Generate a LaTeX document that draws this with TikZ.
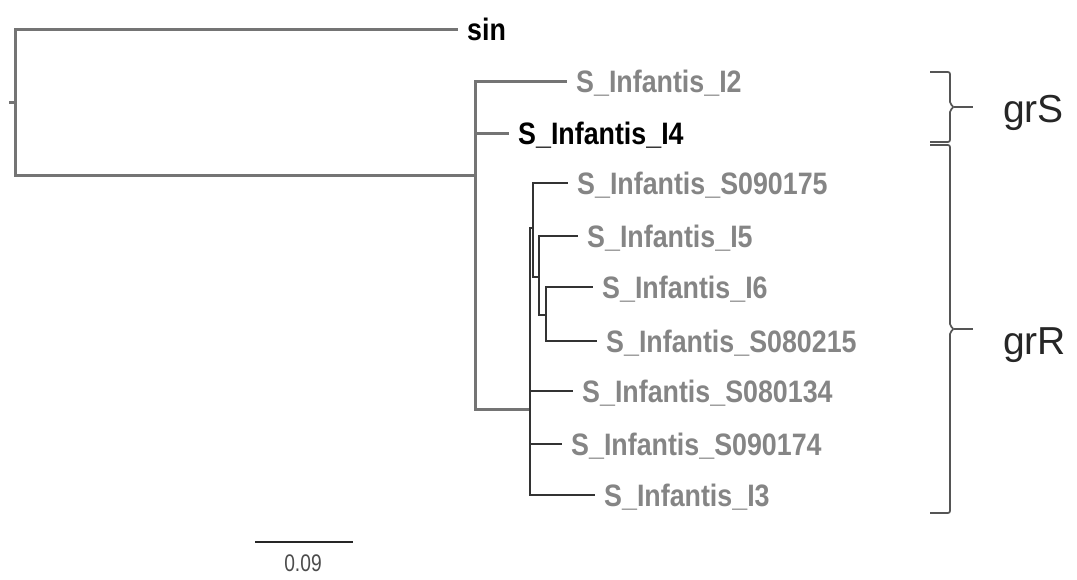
\documentclass[tikz,border=0pt]{standalone}
\usepackage{fontspec}
\setmainfont{Liberation Sans}
\newfontfamily\labfont[FakeStretch=0.865]{Liberation Sans}
\newfontfamily\scalefont[FakeStretch=0.8]{Liberation Sans}
\definecolor{labgray}{HTML}{858585}
\definecolor{outerc}{HTML}{747474}
\definecolor{innerc}{HTML}{333333}
\definecolor{bracec}{HTML}{555555}
\begin{document}
\begin{tikzpicture}[x=1pt,y=-1pt,
  outer/.style={draw=outerc, line width=3pt},
  inner/.style={draw=innerc, line width=2.8pt},
  leaf/.style={anchor=west, inner xsep=9pt, inner ysep=0pt, text height=22pt, text depth=0pt,
     font=\labfont\bfseries\fontsize{31}{31}\selectfont, text=labgray},
  dark/.style={text=black},
  grp/.style={anchor=west, inner sep=0pt, text height=28pt, text depth=0pt,
     font=\fontsize{39}{39}\selectfont, text=black!85},
  bracket/.style={draw=bracec, line width=1.7pt, rounded corners=2pt}]
\useasboundingbox (0,0) rectangle (1077,579);

% internal nodes
\coordinate (R) at (15,102);
\coordinate (Rt) at (9,102);
\coordinate (A) at (475,175);
\coordinate (B) at (530,409);
\coordinate (C) at (533,228);
\coordinate (D) at (539,277);
\coordinate (E) at (546,315);

% leaves
\node[leaf,dark] (sin) at (458,29) {sin};
\node[leaf] (I2) at (567,81) {S\_Infantis\_I2};
\node[leaf,dark] (I4) at (509,133) {S\_Infantis\_I4};
\node[leaf] (S090175) at (568,183) {S\_Infantis\_S090175};
\node[leaf] (I5) at (578,236) {S\_Infantis\_I5};
\node[leaf] (I6) at (593,287) {S\_Infantis\_I6};
\node[leaf] (S080215) at (597,341) {S\_Infantis\_S080215};
\node[leaf] (S080134) at (573,391) {S\_Infantis\_S080134};
\node[leaf] (S090174) at (562,444) {S\_Infantis\_S090174};
\node[leaf] (I3) at (595,495) {S\_Infantis\_I3};

% branches
\draw[outer] (Rt) -- (R);
\draw[outer] (R) |- (sin.west);
\draw[outer] (R) |- (A);
\draw[outer] (A) |- (I2.west);
\draw[outer] (A) |- (I4.west);
\draw[outer] (A) |- (B);
\draw[inner] (B) |- (C);
\draw[inner] (B) |- (S080134.west);
\draw[inner] (B) |- (S090174.west);
\draw[inner] (B) |- (I3.west);
\draw[inner] (C) |- (S090175.west);
\draw[inner] (C) |- (D);
\draw[inner] (D) |- (I5.west);
\draw[inner] (D) |- (E);
\draw[inner] (E) |- (I6.west);
\draw[inner] (E) |- (S080215.west);

% group brackets
\draw[bracket] (930,72) -| (950,104) -- (954,107) -- (950,110) |- (930,142);
\draw[bracket] (954,107) -- (973,107);
\draw[bracket] (930,145) -| (950,326) -- (954,329) -- (950,332) |- (930,513);
\draw[bracket] (954,329) -- (973,329);
\node[grp] (grS) at (1003,108) {grS};
\node[grp] (grR) at (1003,340) {grR};

% scale bar
\coordinate (sb1) at (255,542);
\coordinate (sb2) at (353,542);
\draw[draw=black!85, line width=2.4pt] (sb1) -- (sb2);
\node[inner sep=0pt, text=black!70, font=\scalefont\fontsize{24}{24}\selectfont] (sbl) at (303,563) {0.09};
\end{tikzpicture}
\end{document}
